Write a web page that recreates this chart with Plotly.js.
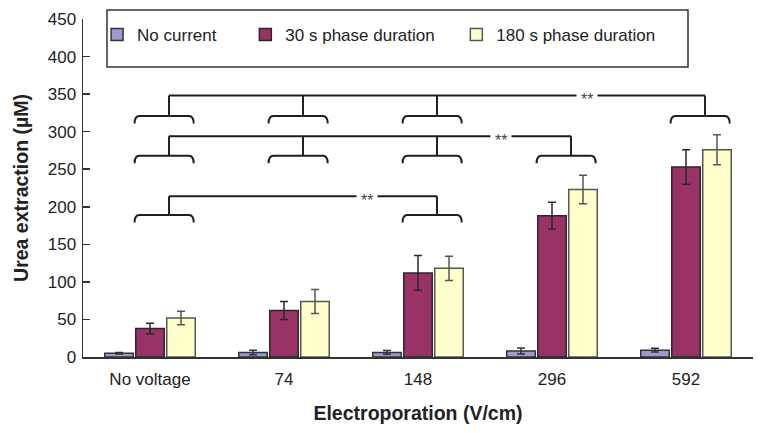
<!DOCTYPE html>
<html>
<head>
<meta charset="utf-8">
<script src="https://cdn.plot.ly/plotly-3.0.1.min.js"></script>
<style>
  html, body { margin: 0; padding: 0; background: #fff; }
  #chart { width: 764px; height: 433px; }
</style>
</head>
<body>
<div id="chart"></div>
<script>
// ---- data ----
const categories = ["No voltage", "74", "148", "296", "592"];
const seriesNames = ["No current", "30 s phase duration", "180 s phase duration"];
const noCurrent = [5, 6, 6, 8, 9];
const noCurrentErr = [1, 3, 2.5, 4, 2.5];
const phase30 = [38, 62, 112, 188, 253];
const phase30Err = [7, 12, 23, 18, 23];
const phase180 = [52, 74, 118, 223, 276];
const phase180Err = [9, 16, 16, 19, 20];
const yTicks = [0, 50, 100, 150, 200, 250, 300, 350, 400, 450];
// significance comparisons (group indices) and labels
const sigGroups = [[0, 1, 2, 4], [0, 1, 2, 3], [0, 2]];
const sigLabel = ["**", "**", "**"];

// ---- styling / placement (not data) ----
const xs = categories.map((c, i) => i);
const colors = ["#9c9ccf", "#993366", "#ffffcc"];
const lineColors = ["#333333", "#2a2a2a", "#555555"];
const sigLineY = [348, 294, 214];
const sigBracketY = [321, 268, 189];
const sigStarX = [3.26, 2.62, 1.62];
const brL = -0.115, brR = 0.326, stemOff = 0.142, curlR = 0.035, curlDrop = 10;

function barTrace(name, y, err, k) {
  return {
    type: "bar", name: name, x: xs, y: y,
    legend: k === 0 ? "legend" : "legend" + (k + 1),
    marker: { color: colors[k], line: { color: lineColors[k], width: 1.5 } },
    error_y: { type: "data", array: err, visible: true, color: lineColors[k], thickness: 1.5, width: 4 },
    hoverinfo: "skip"
  };
}
const data = [
  barTrace(seriesNames[0], noCurrent, noCurrentErr, 0),
  barTrace(seriesNames[1], phase30, phase30Err, 1),
  barTrace(seriesNames[2], phase180, phase180Err, 2)
];

const shapes = [];
const annotations = [];
const ink = "#1e1e1e";
sigGroups.forEach((groups, lv) => {
  const yb = sigBracketY[lv], yl = sigLineY[lv];
  groups.forEach(g => {
    const a = g + brL, b = g + brR;
    shapes.push({
      type: "path", xref: "x", yref: "y",
      path: `M${a},${yb - curlDrop} Q${a},${yb} ${a + curlR},${yb} L${b - curlR},${yb} Q${b},${yb} ${b},${yb - curlDrop}`,
      line: { color: ink, width: 2 }
    });
    shapes.push({
      type: "line", xref: "x", yref: "y",
      x0: g + stemOff, x1: g + stemOff, y0: yb, y1: yl,
      line: { color: ink, width: 2 }
    });
  });
  shapes.push({
    type: "line", xref: "x", yref: "y",
    x0: groups[0] + stemOff, x1: groups[groups.length - 1] + stemOff, y0: yl, y1: yl,
    line: { color: ink, width: 2 }
  });
  annotations.push({
    x: sigStarX[lv], y: yl, xref: "x", yref: "y", text: sigLabel[lv],
    showarrow: false, bgcolor: "#ffffff", borderpad: 4, yshift: -4,
    font: { family: "Arial, Liberation Sans, sans-serif", size: 16, color: "#444" }
  });
});
// legend frame
shapes.push({
  type: "rect", xref: "paper", yref: "paper",
  x0: 0.0358, x1: 0.903, y0: 0.858, y1: 1.0266,
  line: { color: "#333", width: 1.5 }, fillcolor: "rgba(0,0,0,0)"
});

const legFont = { family: "Arial, Liberation Sans, sans-serif", size: 17, color: "#222" };
function leg(x) {
  return { x: x, y: 0.9527, xanchor: "left", yanchor: "middle", orientation: "h",
           bgcolor: "rgba(0,0,0,0)", borderwidth: 0, font: legFont };
}

const layout = {
  width: 764, height: 433,
  margin: { l: 83, r: 11, t: 19, b: 76 },
  paper_bgcolor: "#fff", plot_bgcolor: "#fff",
  barmode: "group", bargap: 0.306, bargroupgap: 0.08,
  showlegend: true,
  legend: leg(0.021), legend2: leg(0.2423), legend3: leg(0.5572),
  font: { family: "Arial, Liberation Sans, sans-serif", color: "#222" },
  xaxis: {
    range: [-0.5, 4.5], tickvals: xs, ticktext: categories,
    showline: true, linecolor: "#333", linewidth: 1.5,
    ticks: "", showgrid: false, zeroline: false,
    ticklabelstandoff: 6,
    tickfont: { size: 17, color: "#222" },
    title: { text: "Electroporation (V/cm)", font: { size: 19.5, color: "#222", weight: "bold" }, standoff: 18 }
  },
  yaxis: {
    range: [0, 450], tickvals: yTicks,
    showline: true, linecolor: "#333", linewidth: 1.5,
    ticks: "inside", ticklen: 7, tickwidth: 1.5, tickcolor: "#333",
    showgrid: false, zeroline: false,
    ticklabelstandoff: 2,
    tickfont: { size: 17, color: "#222" },
    title: { text: "Urea extraction (µM)", font: { size: 19.5, color: "#222", weight: "bold" }, standoff: 14 }
  },
  shapes: shapes,
  annotations: annotations
};

Plotly.newPlot("chart", data, layout, { displayModeBar: false, staticPlot: true });
</script>
</body>
</html>
